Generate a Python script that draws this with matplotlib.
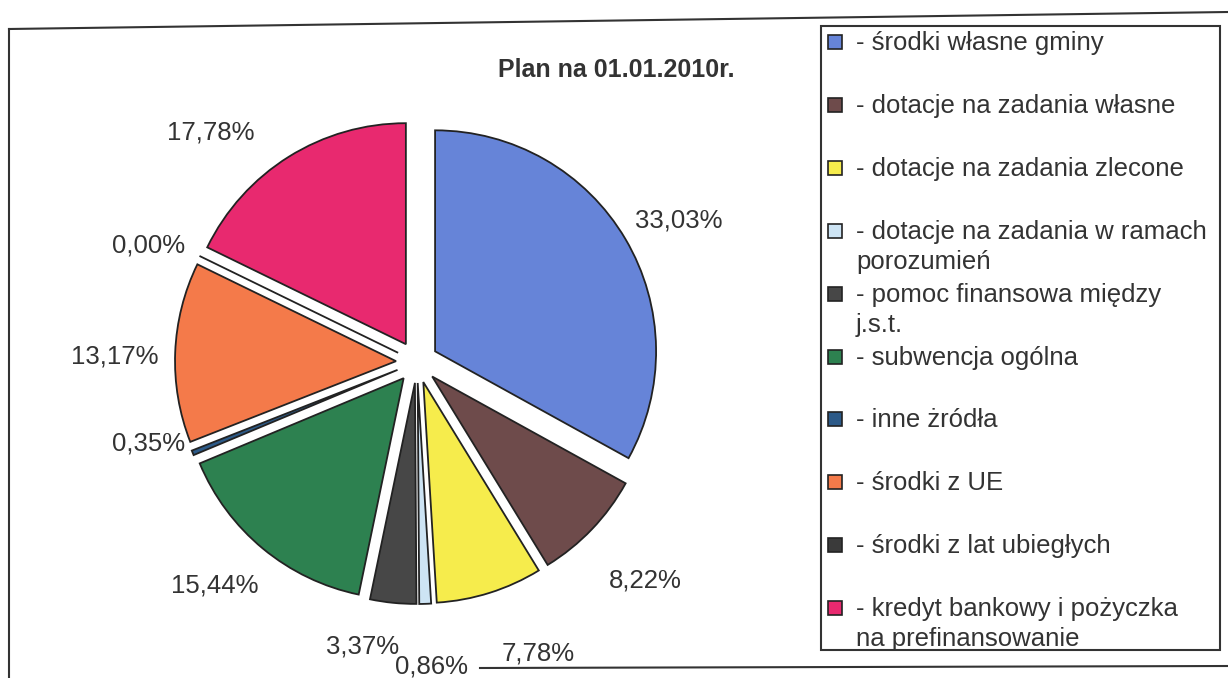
import numpy as np
import matplotlib.pyplot as plt
from matplotlib.patches import Rectangle
from matplotlib.lines import Line2D

plt.rcParams['font.family'] = ['Liberation Sans', 'DejaVu Sans']

# Dane
tytul = "Plan na 01.01.2010r."
kategorie = ['- środki własne gminy',
             '- dotacje na zadania własne',
             '- dotacje na zadania zlecone',
             '- dotacje na zadania w ramach\nporozumień',
             '- pomoc finansowa między\nj.s.t.',
             '- subwencja ogólna',
             '- inne żródła',
             '- środki z UE',
             '- środki z lat ubiegłych',
             '- kredyt bankowy i pożyczka\nna prefinansowanie']
udzialy = [33.03, 8.22, 7.78, 0.86, 3.37, 15.44, 0.35, 13.17, 0.00, 17.78]
kolory = ['#6684d8', '#6e4b4b', '#f6ec4c', '#cde4f4', '#474747',
          '#2d8150', '#2c5a88', '#f47a4a', '#3a3a3a', '#e8296f']

# przesunięcia etykiet (px, w dół dodatnie) - jak w Excelu
przes_x = [0, 9, 30, 4, -24, -9, 13, 1, 5, -45]
przes_y = [13, 9, 2, 1, -18, -11, -33, 7, 17, 28]

W, H = 1228, 678
fig = plt.figure(figsize=(W / 100, H / 100), dpi=100)


def fx(px):
    return px / W


def fy(py):
    return 1 - py / H


# Ramka zewnętrzna (skan lekko przekrzywiony)
fig.add_artist(Line2D([fx(9), fx(9)], [fy(29), fy(678)], color='#333333', lw=1.5))
fig.add_artist(Line2D([fx(9), fx(1228)], [fy(29), fy(12)], color='#333333', lw=1.5))
fig.add_artist(Line2D([fx(480), fx(1228)], [fy(668), fy(666)], color='#333333', lw=1.5))

# Wykres kołowy
cx, cy, half = 417, 362, 300
r_px = 221
ax = fig.add_axes([fx(cx - half), fy(cy + half), 2 * half / W, 2 * half / H])
lim = half / r_px
explode = 0.095
wedges, _ = ax.pie(
    udzialy, colors=kolory, startangle=90, counterclock=False,
    explode=[explode] * len(udzialy), radius=1,
    wedgeprops=dict(edgecolor='#222222', linewidth=1.3))
ax.set_xlim(-lim, lim)
ax.set_ylim(-lim, lim)
ax.axis('off')

for w, val, dx, dy in zip(wedges, udzialy, przes_x, przes_y):
    th = np.deg2rad((w.theta1 + w.theta2) / 2)
    d = explode + 1.28
    x = d * np.cos(th) + dx / r_px
    y = d * np.sin(th) - dy / r_px
    ax.text(x, y, f"{val:.2f}%".replace('.', ','), ha='center', va='center',
            fontsize=18.5, color='#333333')

fig.text(fx(616), fy(70), tytul, ha='center', va='center',
         fontsize=18, fontweight='bold', color='#333333')

# Legenda rysowana ręcznie
fig.add_artist(Rectangle((fx(821), fy(650)), fx(1220) - fx(821), fy(26) - fy(650),
                         fill=False, edgecolor='#333333', lw=1.5))
krok = 62.9
for i, (etykieta, kolor) in enumerate(zip(kategorie, kolory)):
    yc = 42 + i * krok
    fig.add_artist(Rectangle((fx(828), fy(yc + 7)), 14 / W, 14 / H,
                             facecolor=kolor, edgecolor='#222222', lw=1.2))
    for j, linia in enumerate(etykieta.split('\n')):
        fig.text(fx(856), fy(yc + 8 + j * 30), linia, ha='left', va='baseline',
                 fontsize=18.5, color='#333333')

fig.savefig('out.png', dpi=100)
